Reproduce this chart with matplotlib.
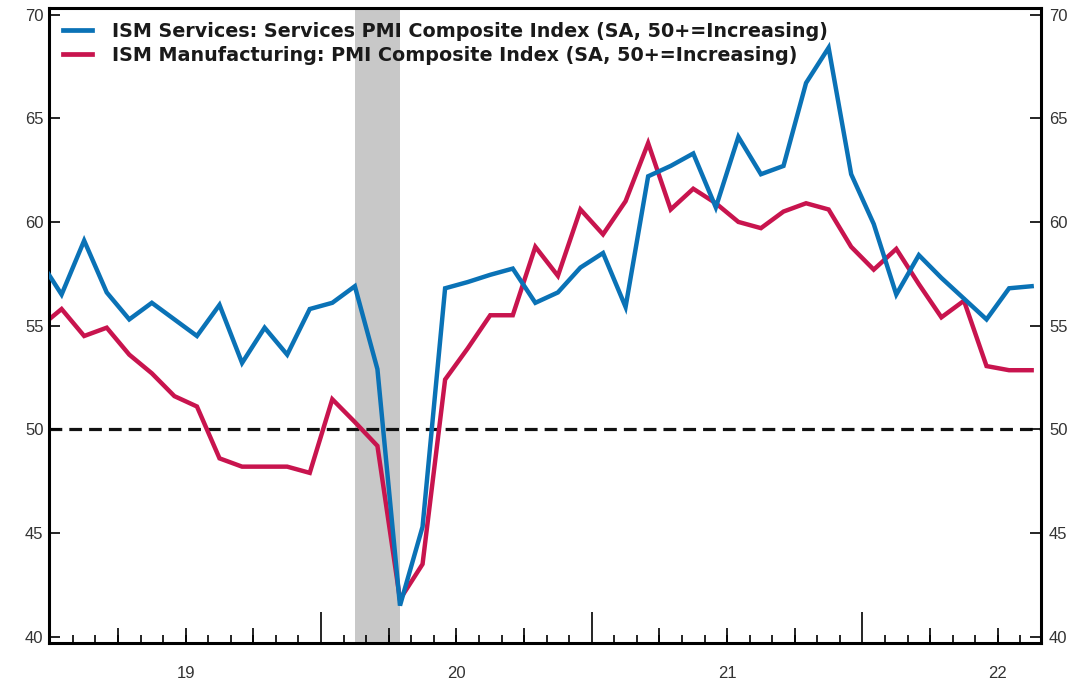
import numpy as np
import matplotlib
matplotlib.use("Agg")
import matplotlib.pyplot as plt
import matplotlib.transforms as mtransforms

# 월별 데이터 (2018-12 ~ 2022-08), index 0 = 2019-01
months = np.arange(-1, 44)

services = [58.2,
            56.5, 59.1, 56.6, 55.3, 56.1, 55.3, 54.5, 56.0, 53.2, 54.9, 53.6, 55.8,
            56.1, 56.9, 52.9, 41.5, 45.3, 56.8, 57.1, 57.45, 57.75, 56.1, 56.6, 57.8,
            58.5, 55.9, 62.2, 62.7, 63.3, 60.7, 64.1, 62.3, 62.7, 66.7, 68.4, 62.3,
            59.9, 56.5, 58.4, 57.3, 56.3, 55.3, 56.8, 56.9]

manufacturing = [54.9,
                 55.8, 54.5, 54.9, 53.6, 52.7, 51.6, 51.1, 48.6, 48.2, 48.2, 48.2, 47.9,
                 51.45, 50.35, 49.2, 41.8, 43.5, 52.4, 53.9, 55.5, 55.5, 58.8, 57.4, 60.6,
                 59.4, 61.0, 63.8, 60.6, 61.6, 60.9, 60.0, 59.7, 60.5, 60.9, 60.6, 58.8,
                 57.7, 58.7, 57.0, 55.4, 56.2, 53.05, 52.85, 52.85]

labels = ["ISM Services: Services PMI Composite Index (SA, 50+=Increasing)",
          "ISM Manufacturing: PMI Composite Index (SA, 50+=Increasing)"]

year_labels = ["19", "20", "21", "22"]
year_centers = [5.5, 17.5, 29.5, 41.5]
recession = (13, 15)  # 2020-02 ~ 2020-04

blue = "#0A72B6"
red = "#C8144E"
font = "Liberation Sans"

fig = plt.figure(figsize=(10.88, 6.81), dpi=100)
ax = fig.add_axes([0.045, 0.0562, 0.9115, 0.9316])

ax.axvspan(recession[0], recession[1], color="#C8C8C8", lw=0, zorder=0)
ax.axhline(50, color="#111111", lw=2.3, dashes=(4, 2.2), zorder=1)

ax.plot(months, services, color=blue, lw=3.2, label=labels[0], zorder=3, solid_joinstyle="miter")
ax.plot(months, manufacturing, color=red, lw=3.2, label=labels[1], zorder=2, solid_joinstyle="miter")

ax.set_xlim(-0.56, 43.4)
ax.set_ylim(39.71, 70.3)

for s in ax.spines.values():
    s.set_linewidth(2.2)
    s.set_color("black")

# y축 (양쪽)
yt = [40, 45, 50, 55, 60, 65, 70]
ax.set_yticks(yt)
ax.set_yticklabels([str(v) for v in yt])
ax.tick_params(axis="y", direction="in", length=8, width=1.2, pad=4,
               labelsize=12, labelcolor="#333333")
ax2 = ax.twinx()
ax2.set_ylim(ax.get_ylim())
ax2.set_yticks(yt)
ax2.set_yticklabels([str(v) for v in yt])
ax2.tick_params(axis="y", direction="in", length=8, width=1.2, pad=6,
                labelsize=12, labelcolor="#333333")
for s in ax2.spines.values():
    s.set_visible(False)
for lab in ax.get_yticklabels() + ax2.get_yticklabels():
    lab.set_family(font)

# x축 눈금: 월 / 분기 / 연
ax.set_xticks([11.5, 23.5, 35.5])
ax.set_xticks(np.arange(-0.5, 43.5, 1.0), minor=True)
ax.tick_params(axis="x", which="major", direction="in", length=22, width=1.2, labelbottom=False)
ax.tick_params(axis="x", which="minor", direction="in", length=6, width=1.2)
sec = ax.secondary_xaxis("bottom")
sec.set_xticks([q for q in np.arange(2.5, 43.5, 3.0) if (q - 11.5) % 12 != 0])
sec.tick_params(direction="in", length=11, width=1.2, labelbottom=False)
sec.spines["bottom"].set_visible(False)

trans = mtransforms.blended_transform_factory(ax.transData, ax.transAxes)
for xc, lab in zip(year_centers, year_labels):
    ax.text(xc, -0.037, lab, transform=trans, ha="center", va="top",
            fontsize=12, color="#333333", family=font)

leg = ax.legend(loc="upper left", frameon=False, handlelength=1.55, handletextpad=1.0,
                borderaxespad=0.3, borderpad=0.42, labelspacing=0.25,
                prop={"family": "DejaVu Sans", "weight": "bold", "size": 13.8})
for t in leg.get_texts():
    t.set_color("#1a1a1a")
for h in leg.get_lines():
    h.set_linewidth(3.4)

fig.savefig("out.png", dpi=100)
